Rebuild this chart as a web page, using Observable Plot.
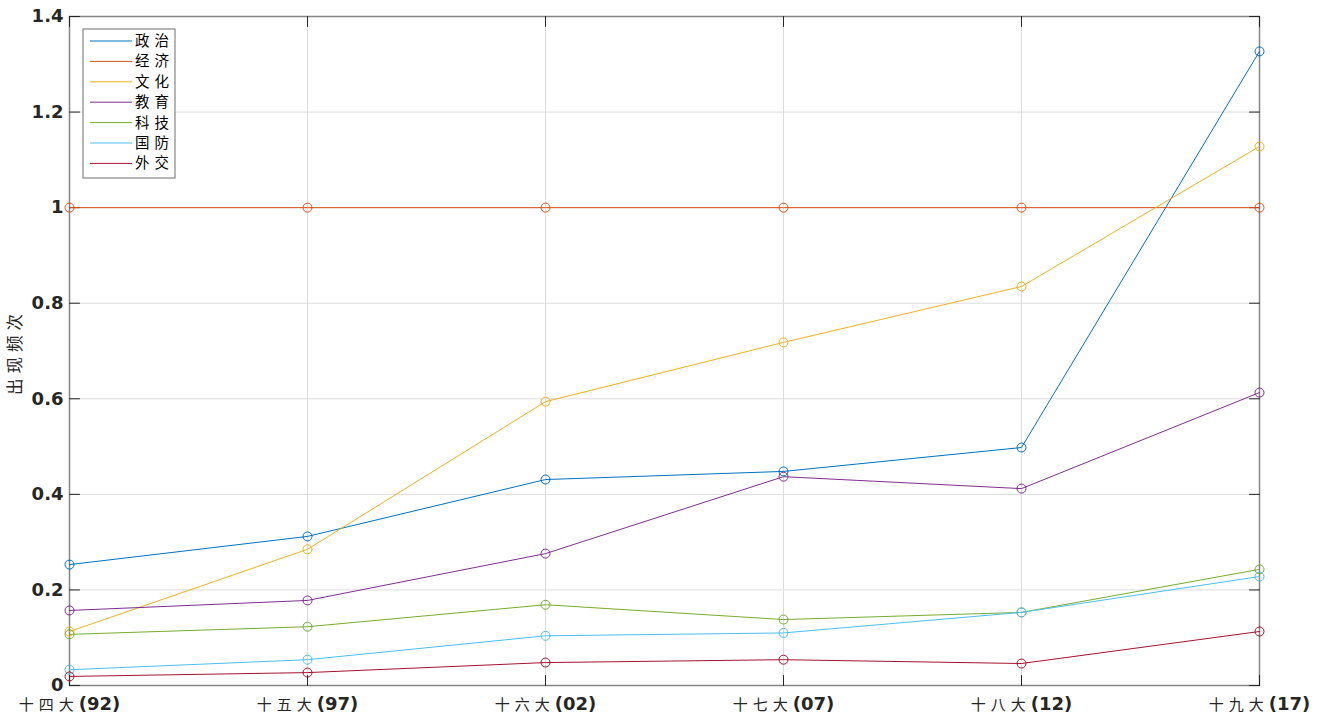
<!DOCTYPE html>
<html>
<head>
<meta charset="utf-8">
<script src="https://cdn.jsdelivr.net/npm/d3@7"></script>
<script src="https://cdn.jsdelivr.net/npm/@observablehq/plot@0.6"></script>
<style>
  html, body { margin: 0; padding: 0; background: #fff; }
  #chart { position: relative; width: 1317px; height: 724px; }
</style>
</head>
<body>
<div id="chart"></div>
<script>
const congresses = ["十四大(92)", "十五大(97)", "十六大(02)", "十七大(07)", "十八大(12)", "十九大(17)"];
const seriesNames = ["政治", "经济", "文化", "教育", "科技", "国防", "外交"];
const seriesColors = ["#0072BD", "#D95319", "#EDB120", "#7E2F8E", "#77AC30", "#4DBEEE", "#A2142F"];
const politics   = [0.253, 0.312, 0.431, 0.448, 0.498, 1.327];
const economy    = [1, 1, 1, 1, 1, 1];
const culture    = [0.113, 0.285, 0.594, 0.718, 0.835, 1.128];
const education  = [0.157, 0.178, 0.276, 0.437, 0.412, 0.613];
const technology = [0.107, 0.123, 0.169, 0.138, 0.153, 0.243];
const defense    = [0.033, 0.054, 0.104, 0.110, 0.153, 0.228];
const diplomacy  = [0.019, 0.027, 0.048, 0.054, 0.046, 0.113];
const yTicks = [0, 0.2, 0.4, 0.6, 0.8, 1, 1.2, 1.4];
const yLabel = "出现频次";

const allSeries = [politics, economy, culture, education, technology, defense, diplomacy];
const rows = [];
allSeries.forEach((vals, si) => vals.forEach((v, i) => rows.push({series: seriesNames[si], x: congresses[i], y: v})));

const tickShape = {draw(ctx, l) { ctx.moveTo(0, 0); ctx.lineTo(0, -l); }};
const tickColor = "#262626";

const plot = Plot.plot({
  width: 1317,
  height: 724,
  marginLeft: 69,
  marginRight: 58,
  marginTop: 16,
  marginBottom: 39,
  style: {fontFamily: "'DejaVu Sans', 'Noto Sans CJK SC', sans-serif", background: "#fff"},
  x: {type: "point", domain: congresses, padding: 0, label: null},
  y: {domain: [0, 1.4], label: null},
  color: {domain: seriesNames, range: seriesColors},
  marks: [
    Plot.gridY(yTicks, {stroke: "#dcdcdc", strokeOpacity: 1}),
    Plot.gridX(congresses, {stroke: "#dcdcdc", strokeOpacity: 1}),
    Plot.frame({stroke: "#858585", strokeWidth: 1.5}),
    Plot.axisY(yTicks, {tickSize: 0, tickPadding: 6, tickFormat: d => String(d), fontSize: 18, fontWeight: "bold", fill: tickColor, label: null}),
    Plot.axisX(congresses, {tickSize: 0, tickPadding: 12, fontSize: 18, fontWeight: "bold", fill: tickColor, label: null}),
    Plot.vector(yTicks, {x: () => congresses[0], y: d => d, length: 10, rotate: 90, anchor: "start", shape: tickShape, stroke: tickColor, strokeWidth: 1}),
    Plot.vector(yTicks, {x: () => congresses[congresses.length - 1], y: d => d, length: 10, rotate: -90, anchor: "start", shape: tickShape, stroke: tickColor, strokeWidth: 1}),
    Plot.vector(congresses, {x: d => d, y: () => 0, length: 10, rotate: 0, anchor: "start", shape: tickShape, stroke: tickColor, strokeWidth: 1}),
    Plot.vector(congresses, {x: d => d, y: () => 1.4, length: 10, rotate: 180, anchor: "start", shape: tickShape, stroke: tickColor, strokeWidth: 1}),
    Plot.line(rows, {x: "x", y: "y", z: "series", stroke: "series", strokeWidth: 1}),
    Plot.dot(rows, {x: "x", y: "y", stroke: "series", r: 4.5, strokeWidth: 1, fill: "none"})
  ]
});

const container = document.getElementById("chart");
container.appendChild(plot);

const svg = d3.select(plot);

// x tick labels: CJK part regular and spaced, number part bold
svg.selectAll('g[aria-label="x-axis tick label"] text').each(function() {
  const t = d3.select(this);
  const full = t.text();
  const k = full.indexOf("(");
  const cjk = full.slice(0, k), num = full.slice(k);
  t.text(null);
  t.append("tspan").attr("font-family", "'Noto Sans CJK SC', sans-serif")
    .attr("font-weight", "normal").attr("font-size", 15).attr("letter-spacing", 5).text(cjk);
  t.append("tspan").attr("font-weight", "bold").attr("font-size", 18).text(num);
});

// y-axis title
svg.append("text")
  .attr("transform", "translate(21,352) rotate(-90)")
  .attr("text-anchor", "middle")
  .attr("font-family", "'Noto Sans CJK SC', sans-serif")
  .attr("font-size", 16.5)
  .attr("fill", tickColor)
  .attr("letter-spacing", 5)
  .text(yLabel);

// legend box
const lg = svg.append("g").attr("transform", "translate(83,29)");
lg.append("rect").attr("x", 0).attr("y", 0).attr("width", 92).attr("height", 149)
  .attr("fill", "#fff").attr("stroke", "#858585").attr("stroke-width", 1.2);
seriesNames.forEach((name, i) => {
  const yy = 12 + i * 20.4;
  lg.append("line").attr("x1", 7).attr("x2", 49).attr("y1", yy).attr("y2", yy)
    .attr("stroke", seriesColors[i]).attr("stroke-width", 1);
  lg.append("text").attr("x", 91).attr("y", yy).attr("dy", "0.35em")
    .attr("text-anchor", "end")
    .attr("font-family", "'Noto Sans CJK SC', sans-serif")
    .attr("font-size", 14.5).attr("letter-spacing", 5).attr("fill", "#000")
    .text(name);
});
</script>
</body>
</html>
